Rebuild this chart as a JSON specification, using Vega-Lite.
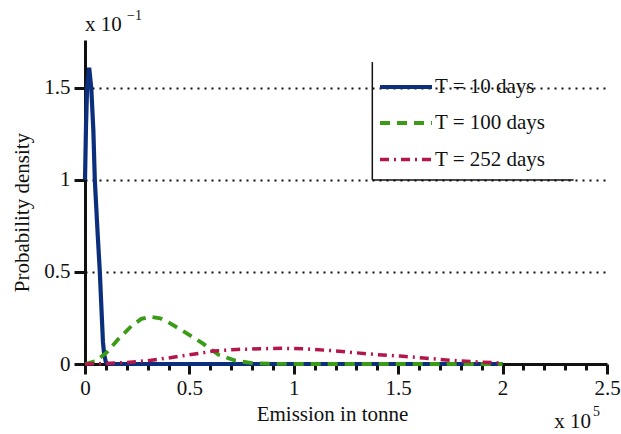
{
  "$schema": "https://vega.github.io/schema/vega-lite/v6.json",
  "width": 522,
  "height": 324,
  "autosize": "none",
  "padding": {"left": 85, "top": 40, "right": 14, "bottom": 70},
  "background": "white",
  "config": {
    "font": "Liberation Serif, DejaVu Serif, serif",
    "view": {"stroke": null},
    "axis": {
      "domainColor": "#111",
      "tickColor": "#111",
      "labelColor": "#111",
      "titleColor": "#111",
      "labelFont": "Liberation Serif, DejaVu Serif, serif",
      "titleFont": "Liberation Serif, DejaVu Serif, serif",
      "labelFontSize": 21,
      "titleFontSize": 21,
      "titleFontWeight": "normal"
    },
    "legend": {
      "labelFont": "Liberation Serif, DejaVu Serif, serif"
    },
    "text": {"font": "Liberation Serif, DejaVu Serif, serif"}
  },
  "datasets": {
    "curves": [
      {"x": 0, "y": 1.0, "series": "T = 10 days"},
      {"x": 0.005, "y": 1.3, "series": "T = 10 days"},
      {"x": 0.01, "y": 1.5, "series": "T = 10 days"},
      {"x": 0.02, "y": 1.61, "series": "T = 10 days"},
      {"x": 0.03, "y": 1.5, "series": "T = 10 days"},
      {"x": 0.04, "y": 1.27, "series": "T = 10 days"},
      {"x": 0.047, "y": 1.0, "series": "T = 10 days"},
      {"x": 0.06, "y": 0.72, "series": "T = 10 days"},
      {"x": 0.071, "y": 0.5, "series": "T = 10 days"},
      {"x": 0.08, "y": 0.27, "series": "T = 10 days"},
      {"x": 0.086, "y": 0.12, "series": "T = 10 days"},
      {"x": 0.092, "y": 0.05, "series": "T = 10 days"},
      {"x": 0.1, "y": 0.01, "series": "T = 10 days"},
      {"x": 0.11, "y": 0, "series": "T = 10 days"},
      {"x": 0.5, "y": 0, "series": "T = 10 days"},
      {"x": 1.0, "y": 0, "series": "T = 10 days"},
      {"x": 1.5, "y": 0, "series": "T = 10 days"},
      {"x": 2.0, "y": 0, "series": "T = 10 days"},
      {"x": 0, "y": 0, "series": "T = 100 days"},
      {"x": 0.05, "y": 0.015, "series": "T = 100 days"},
      {"x": 0.104, "y": 0.063, "series": "T = 100 days"},
      {"x": 0.16, "y": 0.136, "series": "T = 100 days"},
      {"x": 0.224, "y": 0.208, "series": "T = 100 days"},
      {"x": 0.27, "y": 0.245, "series": "T = 100 days"},
      {"x": 0.312, "y": 0.257, "series": "T = 100 days"},
      {"x": 0.36, "y": 0.248, "series": "T = 100 days"},
      {"x": 0.4, "y": 0.226, "series": "T = 100 days"},
      {"x": 0.48, "y": 0.172, "series": "T = 100 days"},
      {"x": 0.56, "y": 0.115, "series": "T = 100 days"},
      {"x": 0.64, "y": 0.05, "series": "T = 100 days"},
      {"x": 0.72, "y": 0.018, "series": "T = 100 days"},
      {"x": 0.8, "y": 0.005, "series": "T = 100 days"},
      {"x": 0.9, "y": 0.001, "series": "T = 100 days"},
      {"x": 1.0, "y": 0, "series": "T = 100 days"},
      {"x": 1.5, "y": 0, "series": "T = 100 days"},
      {"x": 2.0, "y": 0, "series": "T = 100 days"},
      {"x": 0, "y": 0, "series": "T = 252 days"},
      {"x": 0.1, "y": 0.003, "series": "T = 252 days"},
      {"x": 0.2, "y": 0.008, "series": "T = 252 days"},
      {"x": 0.3, "y": 0.018, "series": "T = 252 days"},
      {"x": 0.4, "y": 0.033, "series": "T = 252 days"},
      {"x": 0.5, "y": 0.05, "series": "T = 252 days"},
      {"x": 0.615, "y": 0.07, "series": "T = 252 days"},
      {"x": 0.727, "y": 0.079, "series": "T = 252 days"},
      {"x": 0.84, "y": 0.083, "series": "T = 252 days"},
      {"x": 0.95, "y": 0.085, "series": "T = 252 days"},
      {"x": 1.06, "y": 0.082, "series": "T = 252 days"},
      {"x": 1.175, "y": 0.073, "series": "T = 252 days"},
      {"x": 1.286, "y": 0.062, "series": "T = 252 days"},
      {"x": 1.4, "y": 0.051, "series": "T = 252 days"},
      {"x": 1.51, "y": 0.043, "series": "T = 252 days"},
      {"x": 1.62, "y": 0.033, "series": "T = 252 days"},
      {"x": 1.73, "y": 0.022, "series": "T = 252 days"},
      {"x": 1.85, "y": 0.013, "series": "T = 252 days"},
      {"x": 1.96, "y": 0.007, "series": "T = 252 days"},
      {"x": 2.0, "y": 0.005, "series": "T = 252 days"}
    ],
    "one": [{}]
  },
  "resolve": {"axis": {"x": "independent"}},
  "layer": [
    {
      "data": {"name": "curves"},
      "mark": {"type": "line", "strokeCap": "butt"},
      "encoding": {
        "x": {
          "field": "x", "type": "quantitative",
          "scale": {"domain": [0, 2.5], "nice": false, "zero": false},
          "axis": {
            "orient": "bottom",
            "values": [0, 0.5, 1, 1.5, 2, 2.5],
            "format": "~g",
            "grid": false,
            "domainWidth": 3,
            "tickWidth": 3,
            "tickSize": 10,
            "labelPadding": 3,
            "labelFlush": false,
            "title": "Emission in tonne",
            "titlePadding": 5,
            "titleX": 247
          }
        },
        "y": {
          "field": "y", "type": "quantitative",
          "scale": {"domain": [0, 1.76], "nice": false},
          "axis": {
            "values": [0, 0.5, 1, 1.5],
            "format": "~g",
            "grid": true,
            "gridColor": "#111",
            "gridDash": [2, 5],
            "gridWidth": 2,
            "domainWidth": 3,
            "tickWidth": 3,
            "tickSize": 11,
            "labelPadding": 4,
            "title": "Probability density",
            "titlePadding": 11,
            "titleY": 172
          }
        },
        "color": {
          "field": "series", "type": "nominal",
          "scale": {"domain": ["T = 10 days", "T = 100 days", "T = 252 days"], "range": ["#0b2f7d", "#3a9b16", "#b3164a"]},
          "legend": {
            "title": null,
            "orient": "none",
            "legendX": 310,
            "legendY": 36,
            "padding": 0,
            "symbolType": "M-3,0H3",
            "symbolSize": 300,
            "symbolStrokeWidth": 3.8,
            "labelFontSize": 21,
            "labelColor": "#111",
            "labelOffset": 18,
            "rowPadding": 15,
            "labelLimit": 300
          }
        },
        "strokeDash": {
          "field": "series", "type": "nominal",
          "scale": {"domain": ["T = 10 days", "T = 100 days", "T = 252 days"], "range": [[1, 0], [10, 7], [9, 5, 2, 5]]},
          "legend": {"title": null}
        },
        "strokeWidth": {
          "field": "series", "type": "nominal",
          "scale": {"domain": ["T = 10 days", "T = 100 days", "T = 252 days"], "range": [4.2, 3.5, 3.5]},
          "legend": null
        }
      }
    },
    {
      "data": {"name": "curves"},
      "mark": {"type": "point", "opacity": 0},
      "encoding": {
        "x": {
          "field": "x", "type": "quantitative",
          "scale": {"domain": [0, 2.5], "nice": false, "zero": false},
          "axis": {
            "orient": "bottom",
            "values": [0.1, 0.2, 0.3, 0.4, 0.6, 0.7, 0.8, 0.9, 1.1, 1.2, 1.3, 1.4, 1.6, 1.7, 1.8, 1.9, 2.1, 2.2, 2.3, 2.4],
            "labels": false,
            "domain": false,
            "grid": false,
            "tickWidth": 3,
            "tickSize": 6,
            "title": null
          }
        },
        "y": {"field": "y", "type": "quantitative"}
      }
    },
    {
      "data": {"name": "one"},
      "mark": {"type": "rule", "color": "#111", "strokeWidth": 1.5},
      "encoding": {
        "x": {"datum": 1.376, "type": "quantitative", "axis": null},
        "y": {"datum": 1.0, "type": "quantitative"},
        "y2": {"datum": 1.64}
      }
    },
    {
      "data": {"name": "one"},
      "mark": {"type": "rule", "color": "#111", "strokeWidth": 1.5},
      "encoding": {
        "x": {"datum": 1.376, "type": "quantitative", "axis": null},
        "x2": {"datum": 2.34},
        "y": {"datum": 1.0, "type": "quantitative"}
      }
    },
    {
      "data": {"name": "one"},
      "mark": {"type": "text", "align": "left", "baseline": "middle", "fontSize": 21, "dy": -15, "color": "#111"},
      "encoding": {
        "x": {"datum": 0, "type": "quantitative", "axis": null},
        "y": {"datum": 1.76, "type": "quantitative"},
        "text": {"value": "x 10"}
      }
    },
    {
      "data": {"name": "one"},
      "mark": {"type": "text", "align": "left", "baseline": "middle", "fontSize": 14, "dx": 42, "dy": -24, "color": "#111"},
      "encoding": {
        "x": {"datum": 0, "type": "quantitative", "axis": null},
        "y": {"datum": 1.76, "type": "quantitative"},
        "text": {"value": "−1"}
      }
    },
    {
      "data": {"name": "one"},
      "mark": {"type": "text", "align": "right", "baseline": "middle", "fontSize": 21, "dx": -16, "dy": 58, "color": "#111"},
      "encoding": {
        "x": {"datum": 2.5, "type": "quantitative", "axis": null},
        "y": {"datum": 0, "type": "quantitative"},
        "text": {"value": "x 10"}
      }
    },
    {
      "data": {"name": "one"},
      "mark": {"type": "text", "align": "right", "baseline": "middle", "fontSize": 14, "dx": -7, "dy": 48, "color": "#111"},
      "encoding": {
        "x": {"datum": 2.5, "type": "quantitative", "axis": null},
        "y": {"datum": 0, "type": "quantitative"},
        "text": {"value": "5"}
      }
    }
  ]
}
